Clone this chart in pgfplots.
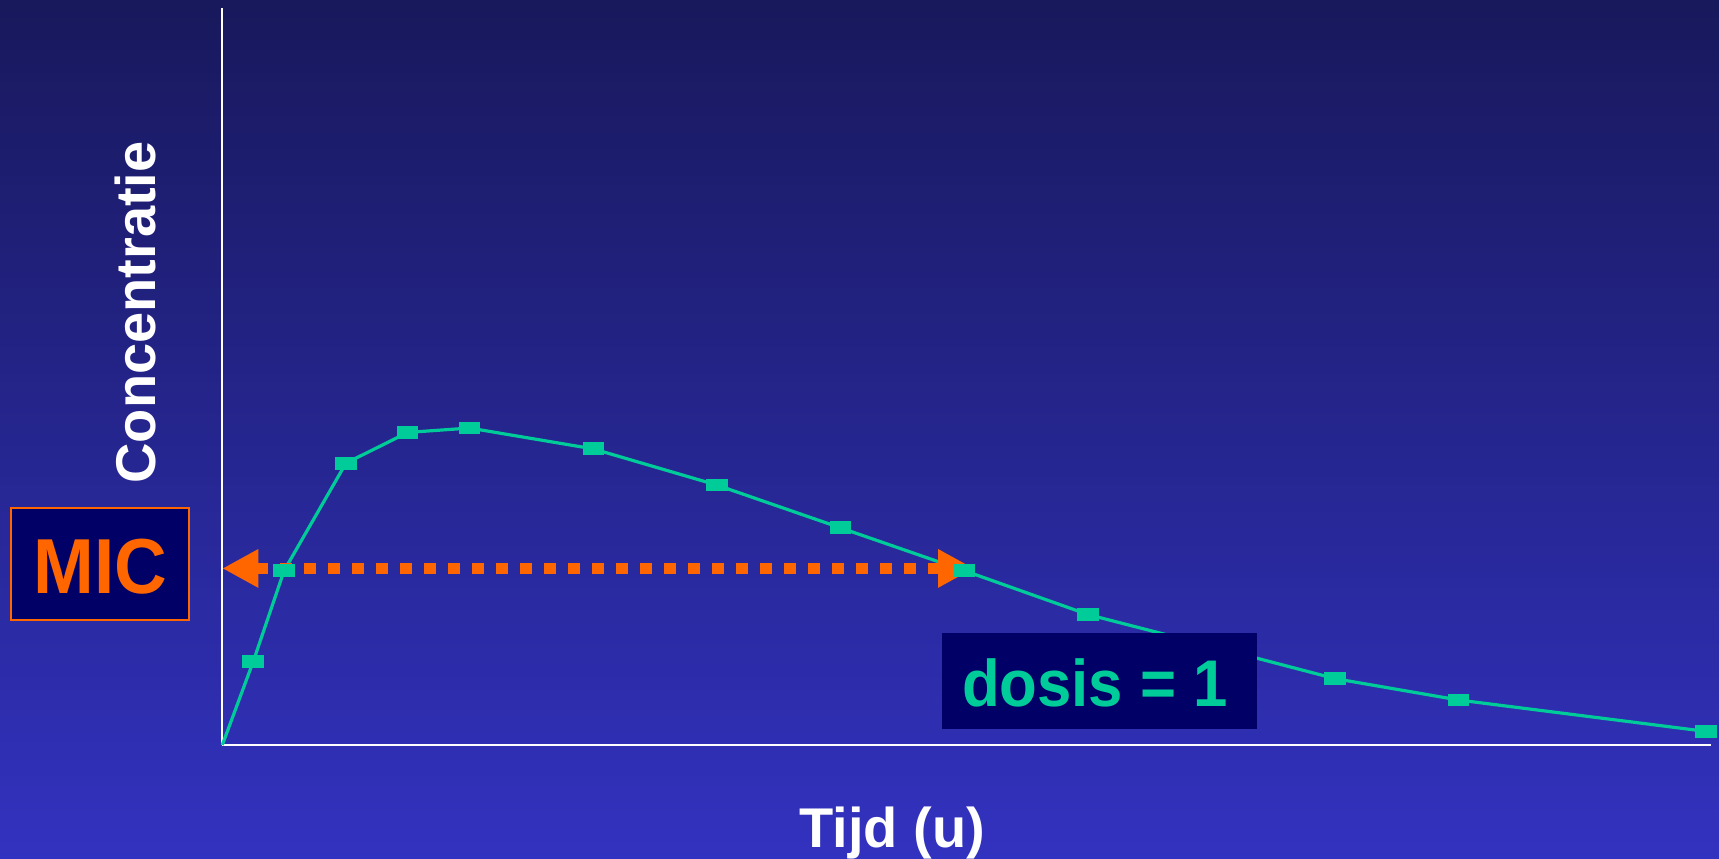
\documentclass[border=0pt]{standalone}
\usepackage{fontspec}
\setmainfont{Liberation Sans}
\usepackage{pgfplots}
\pgfplotsset{compat=1.18}
\usetikzlibrary{arrows.meta}
\definecolor{bgtop}{RGB}{24,24,92}
\definecolor{bgbot}{RGB}{50,50,192}
\definecolor{teal}{RGB}{0,204,153}
\definecolor{micorange}{RGB}{255,102,0}
\definecolor{navybox}{RGB}{0,0,102}
\begin{document}
\begin{tikzpicture}
\shade[top color=bgtop, bottom color=bgbot] (0,0) rectangle (859.5pt,429pt);
\begin{axis}[
  at={(111.15pt,56.5pt)}, anchor=south west,
  scale only axis, width=744.35pt, height=368.5pt,
  xmin=0, xmax=12.04, ymin=0, ymax=672,
  axis x line=bottom, axis y line=left,
  axis line style={-, white, line width=1pt},
  xtick=\empty, ytick=\empty,
  clip=false,
]
\addplot[teal, line width=1.6pt, mark=square*, mark size=2.4pt,
  mark indices={2,3,4,5,6,7,8,9,10,11,12,13,14,15},
  mark options={xscale=1.9, solid, fill=teal, draw=none}]
  coordinates {(0,0) (0.25,76) (0.5,159) (1,257) (1.5,285) (2,289) (3,270) (4,237) (5,198) (6,159) (7,119) (8,90) (9,60.5) (10,41) (12,12.4)};
\addplot[micorange, line width=5.8pt, dash pattern=on 5.8pt off 6.2pt,
  {Triangle[length=18pt,width=18pt]}-{Triangle[length=18pt,width=18pt]}]
  coordinates {(0,161) (6.08,161)};
\end{axis}
% MIC box
\filldraw[fill=navybox, draw=micorange, line width=1pt] (5.35pt,119pt) rectangle (94.5pt,175pt);
\node[anchor=base, inner sep=0pt, text=micorange, font=\fontsize{39}{44}\selectfont\bfseries] at (50.2pt,132.35pt) {\scalebox{0.935}[1]{MIC}};
% dosis box
\fill[navybox] (471pt,64.35pt) rectangle (628.5pt,112.5pt);
\node[anchor=base, inner sep=0pt, text=teal, font=\fontsize{33}{38}\selectfont\bfseries] at (547.5pt,76pt) {\scalebox{0.935}[1]{dosis = 1}};
% axis labels
\node[anchor=base, rotate=90, inner sep=0pt, text=white, font=\fontsize{28}{33}\selectfont\bfseries] at (77.85pt,272.75pt) {Concentratie};
\node[anchor=base, inner sep=0pt, text=white, font=\fontsize{28}{33}\selectfont\bfseries] at (446.2pt,5.35pt) {Tijd (u)};
\pgfresetboundingbox
\useasboundingbox (0,0) rectangle (859.5pt,429pt);
\end{tikzpicture}
\end{document}
